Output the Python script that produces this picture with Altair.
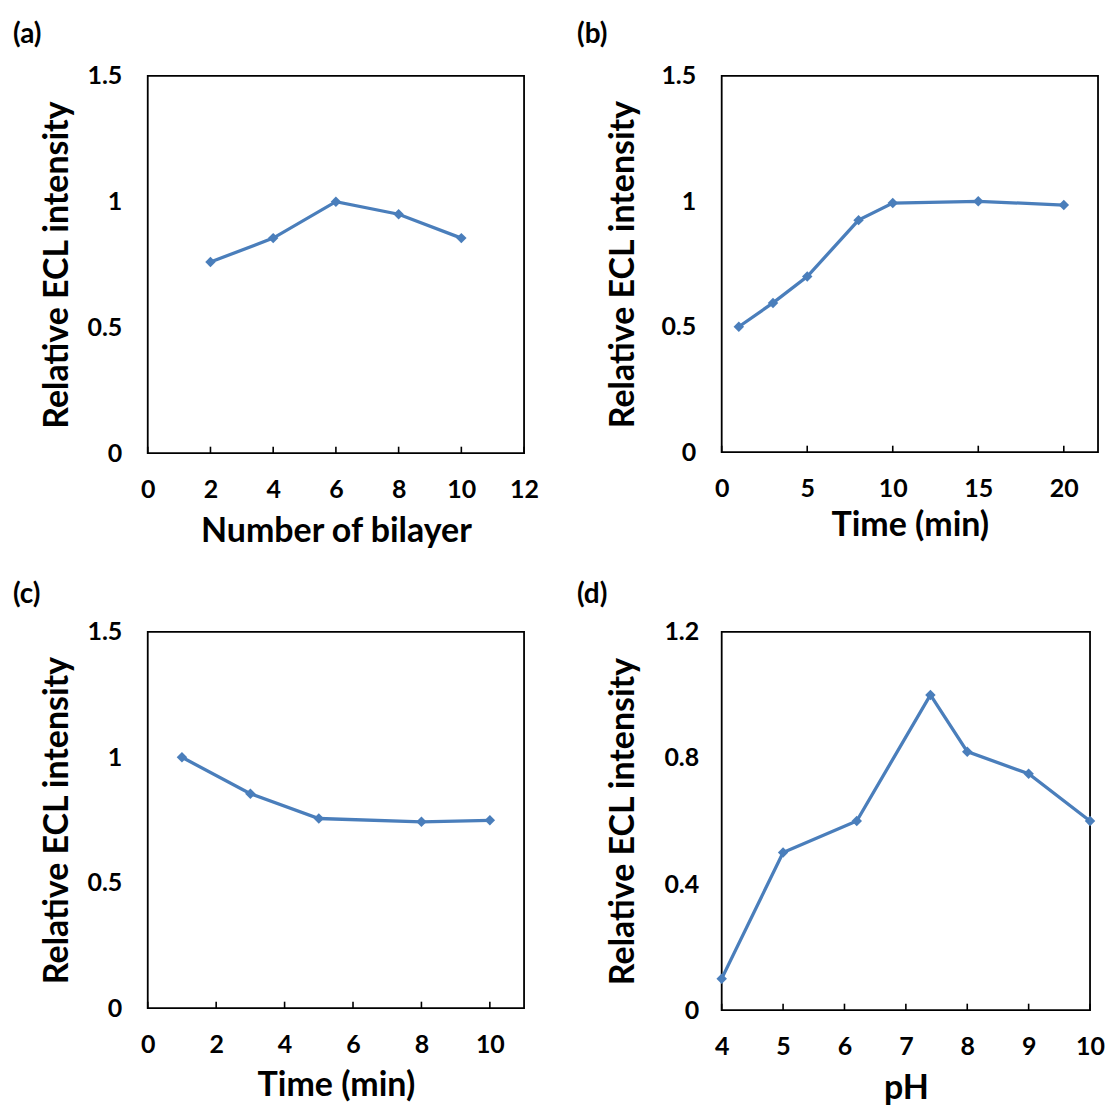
import altair as alt
import pandas as pd

# ---- data ----
a_x = [2, 4, 6, 8, 10]
a_y = [0.76, 0.855, 1.0, 0.95, 0.855]
b_x = [1, 3, 5, 8, 10, 15, 20]
b_y = [0.5, 0.595, 0.70, 0.925, 0.993, 1.0, 0.985]
c_x = [1, 3, 5, 8, 10]
c_y = [1.0, 0.855, 0.756, 0.743, 0.749]
d_x = [4, 5, 6.2, 7.4, 8, 9, 10]
d_y = [0.1, 0.5, 0.6, 1.0, 0.82, 0.75, 0.6]

a_xticks = [0, 2, 4, 6, 8, 10, 12]
b_xticks = [0, 5, 10, 15, 20]
c_xticks = [0, 2, 4, 6, 8, 10]
d_xticks = [4, 5, 6, 7, 8, 9, 10]
y15_ticks = [0, 0.5, 1, 1.5]
y12_ticks = [0, 0.4, 0.8, 1.2]

ytitle = "Relative ECL intensity"
COLOR = "#4a7ebb"
FONT = "Lato"


def panel(xs, ys, label, xtitle, xdom, xticks, ydom, yticks, w, h,
          lab_dx, lab_dy, xtp, ylp, ytp):
    df = pd.DataFrame({"x": xs, "y": ys})
    xenc = alt.X("x:Q", scale=alt.Scale(domain=xdom, nice=False, zero=False),
                 axis=alt.Axis(values=xticks, title=xtitle, ticks=False, tickSize=0,
                               domain=False, grid=False, labelPadding=24,
                               labelFlush=False, labelOverlap=False,
                               titlePadding=xtp, format="~r"))
    yenc = alt.Y("y:Q", scale=alt.Scale(domain=ydom, nice=False, zero=False),
                 axis=alt.Axis(values=yticks, title=ytitle, ticks=False, tickSize=0,
                               domain=False, grid=False, labelPadding=ylp,
                               labelFlush=False, labelOverlap=False,
                               titlePadding=ytp, format="~r"))
    line = alt.Chart(df).mark_line(color=COLOR, strokeWidth=3.3).encode(x=xenc, y=yenc)
    pts = alt.Chart(df).mark_point(shape="diamond", filled=True, size=110,
                                   color=COLOR, opacity=1).encode(x=xenc, y=yenc)
    tdf = pd.DataFrame({"x": xticks})
    tks = alt.Chart(tdf).mark_tick(color="black", thickness=1.6, size=7,
                                   orient="vertical", opacity=1).encode(
        x=xenc, y=alt.value(h - 3))
    ldf = pd.DataFrame({"l": [label]})
    lab = alt.Chart(ldf).mark_text(align="left", baseline="top", fontSize=28,
                                   fontWeight="bold", font=FONT, color="black").encode(
        text="l:N", x=alt.value(lab_dx), y=alt.value(lab_dy))
    return alt.layer(line, pts, tks, lab).properties(width=w, height=h)


pa = panel(a_x, a_y, "(a)", "Number of bilayer", [0, 12], a_xticks, [0, 1.5], y15_ticks,
           377, 378, -135, -55, 12, 26, 12)
pb = panel(b_x, b_y, "(b)", "Time (min)", [0, 22], b_xticks, [0, 1.5], y15_ticks,
           377, 377, -145, -55, 7, 26, 20)
pc = panel(c_x, c_y, "(c)", "Time (min)", [0, 11], c_xticks, [0, 1.5], y15_ticks,
           377, 377, -135, -51, 11, 26, 12)
pd_ = panel(d_x, d_y, "(d)", "pH", [4, 10], d_xticks, [0, 1.2], y12_ticks,
            369, 379, -145, -51, 12, 23, 23)

chart = alt.concat(pa, pb, pc, pd_, columns=2, spacing={"row": 179, "column": 198},
                   bounds="flush").properties(
    padding={"left": 4, "top": 11, "right": -1, "bottom": 0}
).configure(background="white").configure_view(
    stroke="black", strokeWidth=1.8
).configure_axis(
    labelFont=FONT, labelFontSize=25, labelFontWeight="bold", labelColor="black",
    titleFont=FONT, titleFontSize=34, titleFontWeight="bold", titleColor="black"
)

chart.save("out.html", embed_options={"renderer": "svg", "actions": False})
